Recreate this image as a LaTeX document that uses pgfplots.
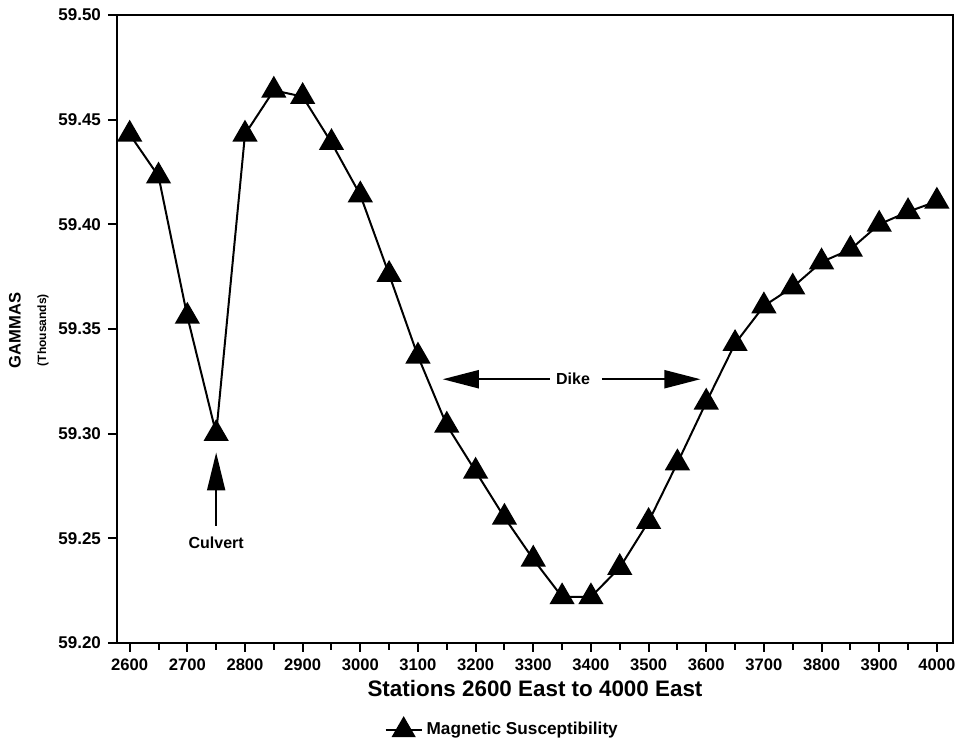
\documentclass[border=0pt]{standalone}
\usepackage{pgfplots}
\pgfplotsset{compat=1.18}
\usepackage{fontspec}
\setmainfont{Liberation Sans}
\usetikzlibrary{arrows.meta}

\begin{document}
\begin{tikzpicture}
\begin{axis}[
  scale only axis,
  width=418pt, height=314pt,
  xmin=2578, xmax=4028,
  ymin=59.20, ymax=59.50,
  axis line style={line width=1pt},
  xtick={2600,2700,...,4000},
  minor xtick={2650,2750,...,3950},
  ytick={59.20,59.25,...,59.50},
  tick align=outside,
  tick pos=left,
  major tick length=4.5pt,
  minor tick length=3.5pt,
  every tick/.style={black, line width=1pt},
  xticklabel style={font=\bfseries\fontsize{8.3}{9}\selectfont},
  yticklabel style={font=\bfseries\fontsize{8.5}{9}\selectfont},
  /pgf/number format/assume math mode=true,
  x tick label style={/pgf/number format/.cd, 1000 sep={}, fixed},
  y tick label style={/pgf/number format/.cd, fixed, fixed zerofill, precision=2},
  xlabel={Stations 2600 East to 4000 East},
  x label style={at={(axis description cs:0.5,-0.0717)}, anchor=center,
    font=\bfseries\fontsize{11.2}{12}\selectfont},
  legend style={at={(0.462,-0.1385)}, anchor=center, draw=none, fill=none,
    font=\bfseries\fontsize{8.6}{10}\selectfont},
  legend image code/.code={
    \draw[line width=1pt] (0pt,0pt) -- (18pt,0pt);
    \draw[fill=black] plot[mark=triangle*, mark size=6pt] coordinates {(9pt,0pt)};
  },
  clip=false,
]
\addplot[black, line width=1pt, mark=triangle*, mark size=6.3pt,
  mark options={solid, fill=black}] coordinates {
  (2600,59.443) (2650,59.423) (2700,59.356) (2750,59.300)
  (2800,59.443) (2850,59.464) (2900,59.461) (2950,59.439)
  (3000,59.414) (3050,59.376) (3100,59.337) (3150,59.304)
  (3200,59.282) (3250,59.260) (3300,59.240) (3350,59.222)
  (3400,59.222) (3450,59.236) (3500,59.258) (3550,59.286)
  (3600,59.315) (3650,59.343) (3700,59.361) (3750,59.370)
  (3800,59.382) (3850,59.388) (3900,59.400) (3950,59.406)
  (4000,59.411)
};
\addlegendentry{Magnetic Susceptibility}

% Dike extent
\draw[line width=1pt, -{Triangle[length=18pt,width=9pt]}]
  (axis cs:3329,59.326) -- (axis cs:3143,59.326);
\draw[line width=1pt, -{Triangle[length=18pt,width=9pt]}]
  (axis cs:3419,59.326) -- (axis cs:3590,59.326);
\node[font=\bfseries\fontsize{8}{9}\selectfont] at (axis cs:3369,59.326) {Dike};

% Culvert
\draw[line width=1pt, -{Triangle[length=19pt,width=9pt]}]
  (axis cs:2750,59.256) -- (axis cs:2750,59.291);
\node[font=\bfseries\fontsize{8}{9}\selectfont] at (axis cs:2750,59.248) {Culvert};

% vertical axis title
\node[rotate=90, font=\bfseries\fontsize{8.3}{10}\selectfont]
  at (axis description cs:-0.122,0.498) {GAMMAS};
\node[rotate=90, font=\bfseries\fontsize{6}{7}\selectfont]
  at (axis description cs:-0.0885,0.498) {(Thousands)};
\end{axis}
\pgfresetboundingbox
\path[use as bounding box] ([shift={(-58.5pt,-52pt)}]current axis.south west)
  rectangle ([shift={(2.5pt,7.5pt)}]current axis.north east);
\end{tikzpicture}
\end{document}
